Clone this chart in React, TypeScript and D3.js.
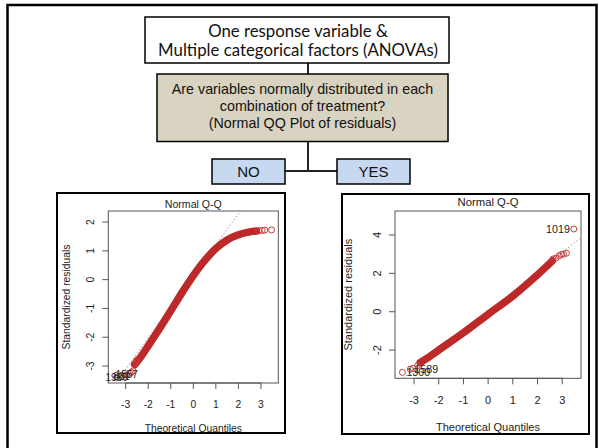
import React from "react";
import * as d3 from "d3";

const W = 599;
const H = 448;

// flowchart texts
const headerLines = ["One response variable &", "Multiple categorical factors (ANOVAs)"];
const questionLines = [
  "Are variables normally distributed in each",
  "combination of treatment?",
  "(Normal QQ Plot of residuals)",
];
const answers = ["NO", "YES"];

const plotTitle = "Normal Q-Q";
const xTitle = "Theoretical Quantiles";
const yTitle = "Standardized residuals";

// left QQ plot (NO) : S shaped, not normal
const leftXDomain = [-3.77, 3.77];
const leftYDomain = [-3.59, 2.385];
const leftXTicks = [-3, -2, -1, 0, 1, 2, 3];
const leftYTicks = [-3, -2, -1, 0, 1, 2];
const leftBand: [number, number][] = [
  [-2.6, -2.95], [-2.3, -2.65], [-2.0, -2.3], [-1.5, -1.7], [-1.0, -1.08],
  [-0.5, -0.45], [0, 0.14], [0.5, 0.66], [1.0, 1.08], [1.5, 1.38],
  [2.0, 1.56], [2.5, 1.66], [2.8, 1.69],
];
const leftTail: [number, number][] = [
  [-3.4, -3.4], [-3.18, -3.37], [-2.95, -3.3], [-2.82, -3.25], [-2.75, -3.22],
  [-2.67, -3.17], [-2.62, -2.93], [-2.55, -2.85], [-2.48, -2.78],
  [2.9, 1.7], [3.05, 1.71], [3.17, 1.72], [3.47, 1.73],
];
const leftIds = [
  { id: "1989", q: -3.4, r: -3.4 },
  { id: "831", q: -3.18, r: -3.37 },
  { id: "1557", q: -2.95, r: -3.3 },
];
const leftQQLine = { a: 0.13, b: 1.077 };

// right QQ plot (YES) : straight
const rightXDomain = [-3.77, 3.76];
const rightYDomain = [-3.47, 5.25];
const rightXTicks = [-3, -2, -1, 0, 1, 2, 3];
const rightYTicks = [-2, 0, 2, 4];
const rightBand: [number, number][] = [
  [-2.75, -2.65], [-2.5, -2.45], [-2.0, -2.0], [-1.0, -1.1], [0, -0.13],
  [1.0, 0.82], [2.0, 1.93], [2.6, 2.65],
];
const rightTail: [number, number][] = [
  [-3.47, -3.16], [-3.15, -3.0], [-3.04, -2.95], [-2.85, -2.8],
  [2.63, 2.75], [2.75, 2.8], [2.88, 2.92], [2.97, 2.99], [3.05, 3.0], [3.17, 3.05],
  [3.47, 4.31],
];
const rightIds = [
  { id: "1300", q: -3.47, r: -3.16 },
  { id: "1589", q: -3.15, r: -3.0 },
  { id: "1019", q: 3.47, r: 4.31 },
];
const rightQQLine = { a: 0.04, b: 1.017 };

const SANS = "'Liberation Sans', Arial, Helvetica, sans-serif";

function QQPlot(props: any) {
  const { frame, panel, xDomain, yDomain, xTicks, yTicks, band, tail, ids, qq, fs, pos, idMode, clipId } = props;
  const x = d3.scaleLinear().domain(xDomain).range([panel.x0, panel.x1]);
  const y = d3.scaleLinear().domain(yDomain).range([panel.y1, panel.y0]);
  const line = d3
    .line<[number, number]>()
    .x((d) => x(d[0]))
    .y((d) => y(d[1]))
    .curve(d3.curveCatmullRom);
  const cx = (panel.x0 + panel.x1) / 2;
  const cy = (panel.y0 + panel.y1) / 2;
  const xs = [xDomain[0], xDomain[1]];

  return (
    <g fontFamily={SANS} fill="#222">
      <rect x={frame.x0} y={frame.y0} width={frame.x1 - frame.x0} height={frame.y1 - frame.y0}
        fill="white" stroke="black" strokeWidth={2} />
      <clipPath id={clipId}>
        <rect x={panel.x0} y={panel.y0} width={panel.x1 - panel.x0} height={panel.y1 - panel.y0} />
      </clipPath>
      <text x={cx} y={pos.title} dy="0.35em" textAnchor="middle" fontSize={fs + 0.3}>{plotTitle}</text>

      {/* x axis */}
      <line x1={x(xTicks[0])} x2={x(xTicks[xTicks.length - 1])} y1={panel.y1} y2={panel.y1} stroke="#555" />
      {xTicks.map((t: number) => (
        <g key={"x" + t}>
          <line x1={x(t)} x2={x(t)} y1={panel.y1} y2={panel.y1 + 6} stroke="#555" />
          <text x={x(t)} y={pos.tick} dy="0.35em" textAnchor="middle" fontSize={fs}>{t}</text>
        </g>
      ))}
      <text x={cx} y={pos.xlab} dy="0.35em" textAnchor="middle" fontSize={fs}>{xTitle}</text>

      {/* y axis */}
      {yTicks.map((t: number) => (
        <g key={"y" + t}>
          <line x1={panel.x0 - 6} x2={panel.x0} y1={y(t)} y2={y(t)} stroke="#555" />
          <text transform={`translate(${pos.ytick},${y(t)}) rotate(-90)`} dy="0.35em" textAnchor="middle" fontSize={fs}>{t}</text>
        </g>
      ))}
      <text transform={`translate(${pos.ylab},${cy}) rotate(-90)`} dy="0.35em" textAnchor="middle" fontSize={fs}>{yTitle}</text>

      <g clipPath={`url(#${clipId})`}>
        <line x1={x(xs[0])} x2={x(xs[1])} y1={y(qq.a + qq.b * xs[0])} y2={y(qq.a + qq.b * xs[1])}
          stroke="#9a9a9a" strokeWidth={1} strokeDasharray="1.5,2" />
        <path d={line(band) || ""} fill="none" stroke="#bd2828" strokeWidth={7.5} strokeLinecap="round" />
        {tail.map((d: [number, number], i: number) => (
          <circle key={i} cx={x(d[0])} cy={y(d[1])} r={3} fill="none" stroke="#c83c3c" strokeWidth={1} />
        ))}
      </g>
      <rect x={panel.x0} y={panel.y0} width={panel.x1 - panel.x0} height={panel.y1 - panel.y0}
        fill="none" stroke="#555" strokeWidth={1} />

      {ids.map((d: any) => {
        const px = x(d.q);
        const py = y(d.r);
        let anchor = "middle";
        let dx = 0;
        if (idMode === "side") {
          anchor = d.q < 0 ? "start" : "end";
          dx = d.q < 0 ? 4 : -4;
        }
        return (
          <text key={d.id} x={px + dx} y={py} dy="0.35em" textAnchor={anchor} fontSize={fs - 0.3} fill="#222">
            {d.id}
          </text>
        );
      })}
    </g>
  );
}

export default function App() {
  const stem = 308;
  return (
    <svg width={W} height={H} style={{ position: "absolute", left: 0, top: 0, background: "white" }}>
      <rect x={0} y={0} width={W} height={H} fill="white" />
      {/* outer frame */}
      <rect x={7.5} y={5} width={589} height={460} fill="none" stroke="black" strokeWidth={2.5} />

      {/* connectors */}
      <line x1={stem} x2={stem} y1={63} y2={74} stroke="#222" strokeWidth={2} />
      <line x1={stem} x2={stem} y1={141.5} y2={171} stroke="#222" strokeWidth={2} />
      <line x1={285} x2={337} y1={171} y2={171} stroke="#222" strokeWidth={2} />

      {/* header box */}
      <rect x={145} y={17} width={304} height={46} fill="white" stroke="black" strokeWidth={1.5} />
      {headerLines.map((t, i) => (
        <text key={t} x={298} y={37 + i * 19} textAnchor="middle" fontFamily="Lato, 'Open Sans', sans-serif"
          fontSize={16.8} fill="#111">{t}</text>
      ))}

      {/* question box */}
      <rect x={157} y={74} width={291} height={67.5} fill="#d9d4c1" stroke="black" strokeWidth={1.5} />
      {questionLines.map((t, i) => (
        <text key={t} x={302.5} y={94 + i * 17} textAnchor="middle" fontFamily={SANS} fontSize={14.3} fill="#111">{t}</text>
      ))}

      {/* answers */}
      {answers.map((t, i) => {
        const bx = i === 0 ? 212 : 337;
        return (
          <g key={t}>
            <rect x={bx} y={159} width={73} height={25} fill="#c6d9f1" stroke="black" strokeWidth={1.5} />
            <text x={bx + 36.5} y={176.5} textAnchor="middle" fontFamily={SANS} fontSize={15} fill="#111">{t}</text>
          </g>
        );
      })}

      <QQPlot
        clipId="clipL"
        frame={{ x0: 57, x1: 285, y0: 193, y1: 433 }}
        panel={{ x0: 108.3, x1: 278.3, y0: 211, y1: 383 }}
        xDomain={leftXDomain}
        yDomain={leftYDomain}
        xTicks={leftXTicks}
        yTicks={leftYTicks}
        band={leftBand}
        tail={leftTail}
        ids={leftIds}
        qq={leftQQLine}
        fs={10.3}
        pos={{ title: 204.3, tick: 404, xlab: 428, ytick: 90, ylab: 66 }}
        idMode="middle"
      />
      <QQPlot
        clipId="clipR"
        frame={{ x0: 342, x1: 589, y0: 194, y1: 434 }}
        panel={{ x0: 395, x1: 581, y0: 211, y1: 378.3 }}
        xDomain={rightXDomain}
        yDomain={rightYDomain}
        xTicks={rightXTicks}
        yTicks={rightYTicks}
        band={rightBand}
        tail={rightTail}
        ids={rightIds}
        qq={rightQQLine}
        fs={11}
        pos={{ title: 202, tick: 400, xlab: 427, ytick: 377, ylab: 348 }}
        idMode="side"
      />
    </svg>
  );
}
